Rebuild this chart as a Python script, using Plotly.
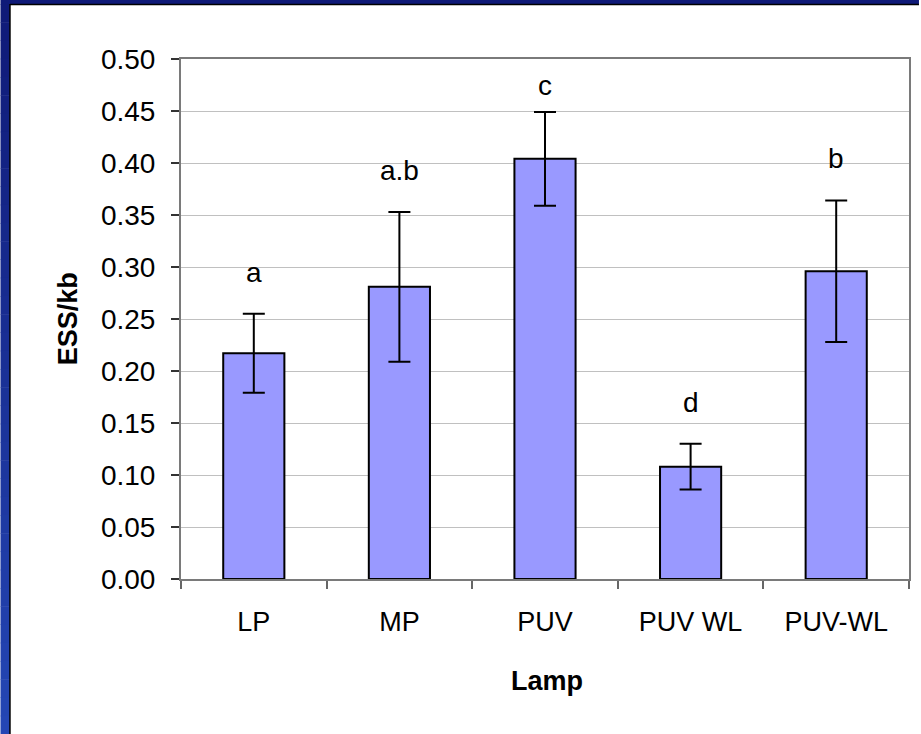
import plotly.graph_objects as go

# ESS/kb per lamp type, with standard error and significance groups
lamps = ["LP", "MP", "PUV", "PUV WL", "PUV-WL"]
ess_per_kb = [0.217, 0.281, 0.404, 0.108, 0.296]
ess_err = [0.038, 0.072, 0.045, 0.022, 0.068]
groups = ["a", "a.b", "c", "d", "b"]
y_ticks = [0.00, 0.05, 0.10, 0.15, 0.20, 0.25, 0.30, 0.35, 0.40, 0.45, 0.50]

FONT = "Liberation Sans, Arial, sans-serif"
W, H = 921, 734
ML, MR, MT, MB = 181, 10, 59, 155
PW, PH = W - ML - MR, H - MT - MB


def px_x(x):
    return (x - ML) / PW


def px_y(y):
    return (H - MB - y) / PH


fig = go.Figure()
fig.add_trace(go.Bar(
    x=lamps,
    y=ess_per_kb,
    marker=dict(color="#9999FF", line=dict(color="black", width=2)),
    error_y=dict(type="data", array=ess_err, visible=True,
                 color="black", thickness=2, width=11),
    showlegend=False,
))

# significance letters above each error bar
for lamp, v, e, g in zip(lamps, ess_per_kb, ess_err, groups):
    fig.add_annotation(x=lamp, y=min(v + e + 0.04, 0.475), text=g,
                       showarrow=False, xref="x", yref="y",
                       font=dict(family=FONT, size=28, color="black"))

# axis titles
fig.add_annotation(x=px_x(68), y=0.5, xref="paper", yref="paper",
                   xanchor="center", yanchor="middle",
                   text="<b>ESS/kb</b>", textangle=-90, showarrow=False,
                   font=dict(family=FONT, size=27, color="black"))
fig.add_annotation(x=px_x(548), y=px_y(681), xref="paper", yref="paper",
                   text="<b>Lamp</b>", showarrow=False,
                   xanchor="center", yanchor="middle",
                   font=dict(family=FONT, size=27, color="black"))

# slide frame: navy band along the top and a gradient band down the left
shapes = []
shapes.append(dict(type="rect", xref="paper", yref="paper",
                   x0=px_x(0), x1=px_x(W), y0=px_y(0), y1=px_y(4.5),
                   fillcolor="#0f1a78", line=dict(width=0), layer="below"))
n = 40
c0 = (15, 26, 120)
c1 = (36, 70, 180)
for i in range(n):
    t = i / (n - 1)
    col = "rgb({},{},{})".format(*[round(a + (b - a) * t) for a, b in zip(c0, c1)])
    y0 = 4 + (H - 4) * i / n
    y1 = 4 + (H - 4) * (i + 1) / n + 0.5
    shapes.append(dict(type="rect", xref="paper", yref="paper",
                       x0=px_x(0), x1=px_x(9.5), y0=px_y(y0), y1=px_y(y1),
                       fillcolor=col, line=dict(width=0), layer="below"))
shapes.append(dict(type="line", xref="paper", yref="paper",
                   x0=px_x(9.5), x1=px_x(9.5), y0=px_y(4), y1=px_y(H),
                   line=dict(color="black", width=1.5), layer="below"))
shapes.append(dict(type="line", xref="paper", yref="paper",
                   x0=px_x(9.5), x1=px_x(W), y0=px_y(4.5), y1=px_y(4.5),
                   line=dict(color="black", width=1.5), layer="below"))

fig.update_layout(
    width=W, height=H,
    margin=dict(l=ML, r=MR, t=MT, b=MB, pad=0),
    paper_bgcolor="white",
    plot_bgcolor="white",
    bargap=0.58,
    shapes=shapes,
    font=dict(family=FONT, size=28, color="black"),
    xaxis=dict(
        type="category",
        tickson="boundaries",
        ticks="outside", ticklen=8, tickwidth=1.5, tickcolor="#666666",
        showgrid=False,
        showline=True, linecolor="#7a7a7a", linewidth=2, mirror=True,
        tickfont=dict(family=FONT, size=27, color="black"),
        ticklabelstandoff=18,
        fixedrange=True,
    ),
    yaxis=dict(
        range=[0, 0.5],
        tickvals=y_ticks,
        ticktext=["{:.2f}".format(v) for v in y_ticks],
        ticks="outside", ticklen=8, tickwidth=1.5, tickcolor="#333333",
        showgrid=True, gridcolor="#c0c0c0", gridwidth=1,
        showline=True, linecolor="#7a7a7a", linewidth=2, mirror=True,
        zeroline=False,
        tickfont=dict(family=FONT, size=28, color="black"),
        ticklabelstandoff=10,
        fixedrange=True,
    ),
)

fig.write_html("out.html")
